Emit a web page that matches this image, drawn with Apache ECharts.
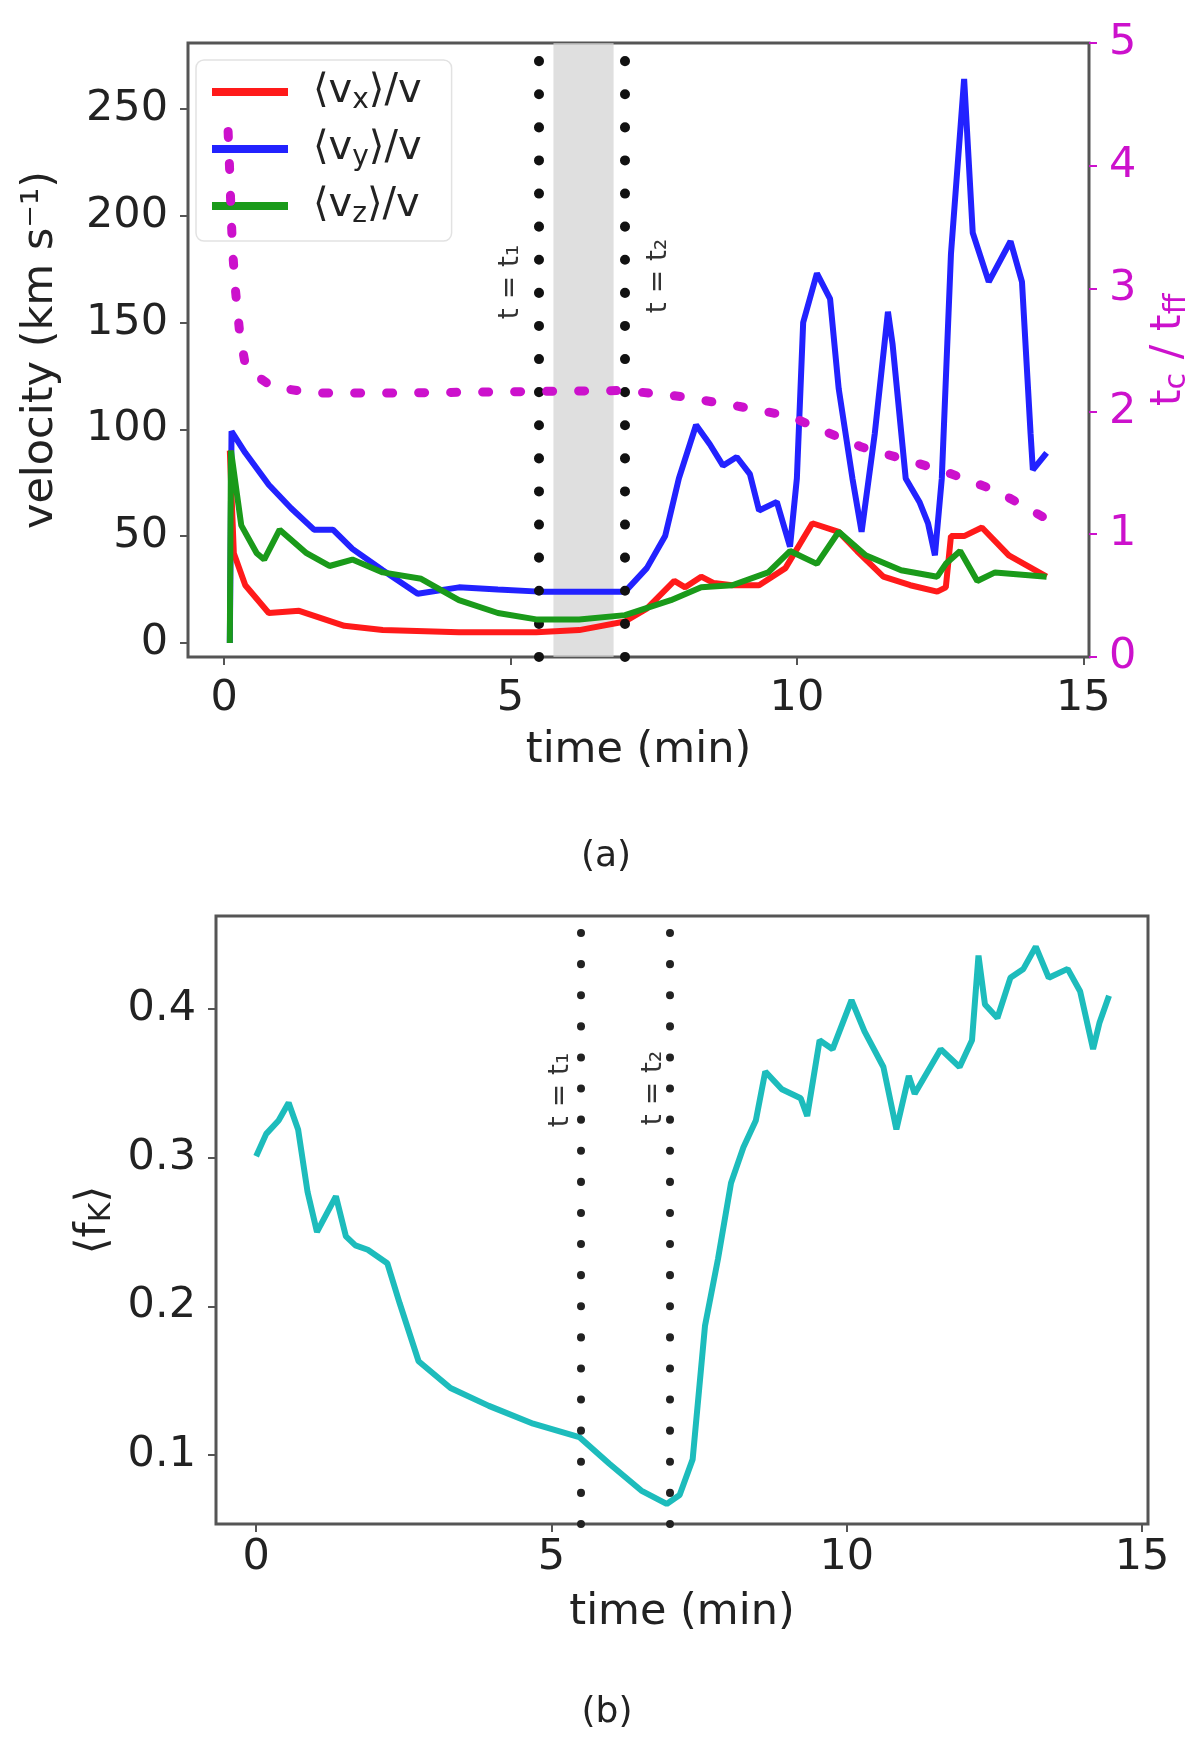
<!DOCTYPE html>
<html><head><meta charset="utf-8">
<script src="https://cdn.jsdelivr.net/npm/echarts@6/dist/echarts.min.js"></script>
<style>html,body{margin:0;padding:0;background:#fff}#c{width:1200px;height:1752px}</style>
</head><body><div id="c"></div>
<script>
// ---- data (panel a) ----
const blueT = [0.10,0.13,0.37,0.78,1.17,1.57,1.90,2.24,2.77,3.38,4.10,4.78,5.50,6.10,7.00,7.38,7.70,7.94,8.24,8.48,8.71,8.95,9.18,9.34,9.65,9.88,10.00,10.11,10.35,10.58,10.73,10.97,11.13,11.36,11.59,11.67,11.90,12.14,12.29,12.41,12.53,12.69,12.92,13.07,13.35,13.73,13.93,14.08,14.12,14.36];
const blueV = [0,99,89,74,63,53,53,44,34,23,26,25,24,24,24,35,50,77,102,93,83,87,79,62,66,45,77,150,173,161,119,77,52,98,155,140,77,66,56,41,77,182,264,192,169,188,169,98,81,89];
const redT = [0.10,0.17,0.37,0.78,1.31,2.10,2.77,4.10,5.45,6.20,7.00,7.38,7.86,8.05,8.33,8.55,8.87,9.34,9.80,10.27,10.73,11.05,11.51,11.98,12.45,12.60,12.69,12.92,13.23,13.70,14.36];
const redV = [90,42,27,14,15,8,6,5,5,6,10,16,29,26,31,28,27,27,35,56,52,43,31,27,24,26,50,50,54,41,31];
const greenT = [0.10,0.12,0.30,0.57,0.70,0.97,1.44,1.84,2.24,2.77,3.44,4.10,4.78,5.45,6.20,7.00,7.80,8.33,8.87,9.50,9.88,10.35,10.73,11.20,11.82,12.45,12.60,12.85,13.15,13.46,14.36];
const greenV = [0,90,55,42,39,53,42,36,39,33,30,20,14,11,11,13,20,26,27,33,43,37,52,41,34,31,37,43,29,33,31];
const magT = [0.07,0.10,0.12,0.15,0.20,0.27,0.37,0.60,0.84,1.56,3.00,5.00,7.00,8.00,9.00,9.88,11.13,12.53,13.50,14.30];
const magV = [4.28,3.93,3.63,3.30,2.98,2.65,2.38,2.28,2.20,2.15,2.15,2.16,2.17,2.12,2.04,1.96,1.71,1.52,1.35,1.14];
// ---- data (panel b) ----
const cyanT = [0.00,0.17,0.38,0.55,0.71,0.87,1.03,1.19,1.35,1.52,1.68,1.89,2.22,2.43,2.75,3.29,3.94,4.69,5.47,5.98,6.52,6.95,7.17,7.39,7.60,7.82,8.04,8.25,8.46,8.62,8.90,9.22,9.33,9.54,9.76,10.08,10.30,10.62,10.84,11.05,11.15,11.59,11.91,12.12,12.23,12.34,12.55,12.77,12.99,13.20,13.42,13.74,13.95,14.17,14.28,14.44];
const cyanV = [0.301,0.316,0.325,0.337,0.319,0.277,0.250,0.262,0.274,0.247,0.241,0.238,0.229,0.202,0.163,0.145,0.133,0.121,0.112,0.094,0.076,0.067,0.073,0.097,0.187,0.232,0.283,0.307,0.325,0.358,0.346,0.340,0.328,0.379,0.373,0.406,0.385,0.361,0.319,0.355,0.343,0.373,0.361,0.379,0.436,0.403,0.394,0.421,0.427,0.442,0.421,0.427,0.412,0.373,0.391,0.409];
// ---- annotations / ticks ----
const eventTimes = [5.5, 7.0];
const bandRange = [5.75, 6.8];
const xTicks = [0, 5, 10, 15];
const yTicksA = [0, 50, 100, 150, 200, 250];
const yTicksB = [0.1, 0.2, 0.3, 0.4];
const eventLabels = ['t = t\u2081', 't = t\u2082'];
const legendSub = {vx: 'x', vy: 'y', vz: 'z'};

const zip = (t, v) => t.map((x, i) => [x, v[i]]);
const FONT = 'DejaVu Sans';
const FS = 43;
const TXT = '#222';
const FRAME = '#555';
const MAG = '#cc11cc';

const chart = echarts.init(document.getElementById('c'), null, {renderer: 'canvas'});

const axisCommon = {
  splitLine: {show: false},
  axisLine: {show: false, onZero: false},
  axisTick: {show: true, length: 8, inside: false, lineStyle: {color: FRAME, width: 2}},
  axisLabel: {fontFamily: FONT, fontSize: FS, color: TXT},
  nameTextStyle: {fontFamily: FONT, fontSize: FS, color: TXT}
};

const dotted = {color: '#111', width: 10, type: [0.1, 33], cap: 'round'};

const option = {
  animation: false,
  backgroundColor: '#fff',
  textStyle: {fontFamily: FONT},
  grid: [
    {left: 188, top: 43, right: 111, bottom: 1095, show: true, borderColor: FRAME, borderWidth: 3, backgroundColor: 'transparent'},
    {left: 216, top: 916, right: 52, bottom: 228, show: true, borderColor: FRAME, borderWidth: 3, backgroundColor: 'transparent'}
  ],
  legend: {
    left: 196, top: 60, orient: 'vertical',
    data: ['vx', 'vy', 'vz'],
    icon: 'rect', itemWidth: 76, itemHeight: 8, itemGap: 14,
    backgroundColor: 'rgba(255,255,255,0.8)', borderColor: '#e2e2e2', borderWidth: 1.5, borderRadius: 8,
    padding: [12, 30, 12, 16],
    formatter: n => '{b|\u27E8v}{s|' + legendSub[n] + '}{b|\u27E9/v}',
    textStyle: {color: TXT, fontFamily: FONT, padding: [0, 0, 0, 20],
      rich: {b: {fontSize: 40, fontFamily: FONT, color: TXT, lineHeight: 46}, s: {fontSize: 28, fontFamily: FONT, color: TXT, verticalAlign: 'bottom', lineHeight: 46, padding: [14, 0, 0, 0]}}}
  },
  xAxis: [
    Object.assign({}, axisCommon, {type: 'value', gridIndex: 0, min: -0.63, max: 15.1,
      name: 'time (min)', nameLocation: 'middle', nameGap: 72,
      axisLabel: Object.assign({}, axisCommon.axisLabel, {customValues: xTicks, margin: 20}),
      axisTick: Object.assign({}, axisCommon.axisTick, {customValues: xTicks})}),
    Object.assign({}, axisCommon, {type: 'value', gridIndex: 1, min: -0.68, max: 15.1,
      name: 'time (min)', nameLocation: 'middle', nameGap: 67,
      axisLabel: Object.assign({}, axisCommon.axisLabel, {customValues: xTicks, margin: 12}),
      axisTick: Object.assign({}, axisCommon.axisTick, {customValues: xTicks})})
  ],
  yAxis: [
    Object.assign({}, axisCommon, {type: 'value', gridIndex: 0, min: -6.6, max: 280.8, position: 'left',
      name: 'velocity (km s\u207B\u00B9)', nameLocation: 'middle', nameGap: 126, nameRotate: 90,
      axisLabel: Object.assign({}, axisCommon.axisLabel, {customValues: yTicksA, margin: 20}),
      axisTick: Object.assign({}, axisCommon.axisTick, {customValues: yTicksA})}),
    Object.assign({}, axisCommon, {type: 'value', gridIndex: 0, min: 0, max: 5, interval: 1, position: 'right',
      name: '{a|t}{s|c}{a| / t}{s|ff}', nameLocation: 'middle', nameGap: 54, nameRotate: 90,
      nameTextStyle: {fontFamily: FONT, rich: {a: {fontSize: FS, color: MAG, fontFamily: FONT}, s: {fontSize: 30, color: MAG, fontFamily: FONT, padding: [16, 0, 0, 0]}}},
      axisLabel: Object.assign({}, axisCommon.axisLabel, {color: MAG, margin: 20}),
      axisTick: Object.assign({}, axisCommon.axisTick, {lineStyle: {color: MAG, width: 2}})}),
    Object.assign({}, axisCommon, {type: 'value', gridIndex: 1, min: 0.0535, max: 0.4626,
      name: '{a|\u27E8f}{s|K}{a|\u27E9}', nameLocation: 'middle', nameGap: 64, nameRotate: 90,
      nameTextStyle: {fontFamily: FONT, rich: {a: {fontSize: FS, color: TXT, fontFamily: FONT}, s: {fontSize: 30, color: TXT, fontFamily: FONT, padding: [16, 0, 0, 0]}}},
      axisLabel: Object.assign({}, axisCommon.axisLabel, {customValues: yTicksB, margin: 20, formatter: v => v.toFixed(1)}),
      axisTick: Object.assign({}, axisCommon.axisTick, {customValues: yTicksB})})
  ],
  series: [
    {name: 'vx', type: 'line', xAxisIndex: 0, yAxisIndex: 0, data: zip(redT, redV), symbol: 'none', color: '#ff1a1a',
      lineStyle: {width: 6, color: '#ff1a1a'}, z: 4,
      markArea: {silent: true, itemStyle: {color: 'rgba(210,210,210,0.7)'}, data: [[{xAxis: bandRange[0]}, {xAxis: bandRange[1]}]]},
      markLine: {silent: true, symbol: 'none', label: {show: false}, lineStyle: dotted, data: eventTimes.map(t => ({xAxis: t}))}},
    {name: 'vy', type: 'line', xAxisIndex: 0, yAxisIndex: 0, data: zip(blueT, blueV), symbol: 'none', color: '#2222ff',
      lineStyle: {width: 6, color: '#2222ff'}, z: 3},
    {name: 'vz', type: 'line', xAxisIndex: 0, yAxisIndex: 0, data: zip(greenT, greenV), symbol: 'none', color: '#1a9a1a',
      lineStyle: {width: 6, color: '#1a9a1a'}, z: 5},
    {name: 'tc', type: 'line', xAxisIndex: 0, yAxisIndex: 1, data: zip(magT, magV), symbol: 'none', color: MAG,
      lineStyle: {width: 9, color: MAG, type: [6, 26], cap: 'round'}, z: 6},
    {name: 'fk', type: 'line', xAxisIndex: 1, yAxisIndex: 2, data: zip(cyanT, cyanV), symbol: 'none', color: '#1dbcbc',
      lineStyle: {width: 6, color: '#1dbcbc'}, z: 4,
      markLine: {silent: true, symbol: 'none', label: {show: false}, lineStyle: {color: '#222', width: 8, type: [0.1, 31], cap: 'round'}, data: eventTimes.map(t => ({xAxis: t}))}}
  ]
};
chart.setOption(option);

// annotation texts placed relative to the event lines
const pA0 = chart.convertToPixel({xAxisIndex: 0, yAxisIndex: 0}, [eventTimes[0], 0]);
const pA1 = chart.convertToPixel({xAxisIndex: 0, yAxisIndex: 0}, [eventTimes[1], 0]);
const pB0 = chart.convertToPixel({xAxisIndex: 1, yAxisIndex: 2}, [eventTimes[0], 0.1]);
const pB1 = chart.convertToPixel({xAxisIndex: 1, yAxisIndex: 2}, [eventTimes[1], 0.1]);
const rotText = (x, y, txt) => ({type: 'text', x: x, y: y, rotation: Math.PI / 2,
  style: {text: txt, fontFamily: FONT, fontSize: 28, fill: '#333', align: 'center', verticalAlign: 'middle'}, z: 20});
chart.setOption({graphic: [
  rotText(pA0[0] - 28, 282, eventLabels[0]),
  rotText(pA1[0] + 34, 276, eventLabels[1]),
  rotText(pB0[0] - 20, 1090, eventLabels[0]),
  rotText(pB1[0] - 16, 1088, eventLabels[1]),
  {type: 'text', x: 606, y: 857, style: {text: '(a)', fontFamily: FONT, fontSize: 36, fill: TXT, align: 'center', verticalAlign: 'middle'}},
  {type: 'text', x: 607, y: 1713, style: {text: '(b)', fontFamily: FONT, fontSize: 36, fill: TXT, align: 'center', verticalAlign: 'middle'}}
]});
</script></body></html>
